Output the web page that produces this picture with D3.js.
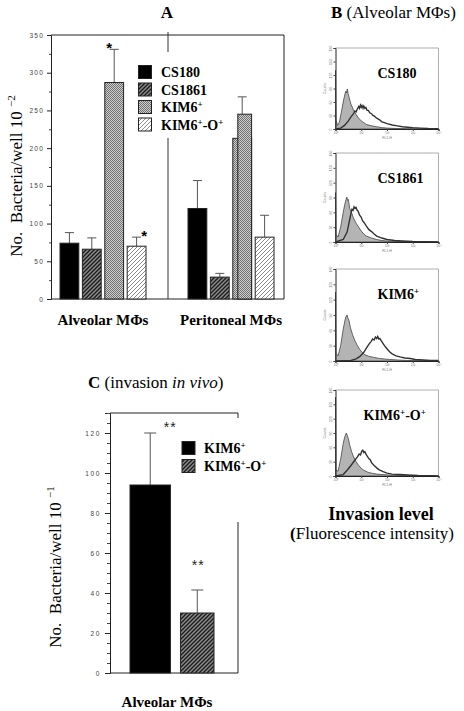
<!DOCTYPE html>
<html><head><meta charset="utf-8">
<script src="https://cdn.jsdelivr.net/npm/d3@7"></script>
<style>body{margin:0;background:#fff} svg{display:block}</style>
</head><body><svg id="c" width="464" height="711"></svg>
<script>
// ---------- DATA ----------
const groupsA = ["Alveolar MΦs", "Peritoneal MΦs"];
const strainsA = ["CS180", "CS1861", "KIM6+", "KIM6+-O+"];
const alveolarMeans = [74, 66, 287, 70];
const alveolarUpper = [88, 81, 331, 82];
const peritonealMeans = [120, 29, 245, 82];
const peritonealUpper = [157, 34, 268, 111];
const peritonealKimShoulder = 213;
const yTicksA = [0, 50, 100, 150, 200, 250, 300, 350];

const strainsC = ["KIM6+", "KIM6+-O+"];
const meansC = [94, 30];
const upperC = [120, 41.5];
const yTicksC = [0, 20, 40, 60, 80, 100, 120];

const histNames = ["CS180", "CS1861", "KIM6+", "KIM6+-O+"];
const histDecades = [0, 1, 2, 3, 4];
const histCountTicks = [0, 30, 60, 90, 120, 150, 180];
const cs180Control = [[0,130],[0.02,20],[0.08,8],[0.15,15],[0.22,35],[0.3,60],[0.36,76],[0.4,84],[0.43,80],[0.46,89],[0.49,78],[0.53,70],[0.6,55],[0.7,42],[0.8,32],[0.9,24],[1.0,18],[1.1,14],[1.2,10],[1.4,7],[1.6,5],[1.8,3],[2.0,2],[2.4,1],[2.8,0.5],[4,0]];
const cs180Sample = [[0,0],[0.2,2],[0.35,8],[0.5,18],[0.6,27],[0.7,34],[0.75,40],[0.8,38],[0.85,45],[0.9,50],[0.93,46],[0.97,53],[1.0,48],[1.03,52],[1.07,46],[1.1,51],[1.14,46],[1.18,48],[1.22,42],[1.28,41],[1.33,36],[1.4,34],[1.45,30],[1.5,29],[1.6,24],[1.7,21],[1.8,16],[1.9,14],[2.0,12],[2.2,9],[2.4,7],[2.6,5],[2.8,4],[3.0,3],[3.3,2],[3.6,1],[4,0.5]];
const cs1861Control = [[0,100],[0.02,15],[0.1,10],[0.2,30],[0.3,60],[0.36,76],[0.41,86],[0.44,91],[0.47,84],[0.5,86],[0.55,68],[0.62,60],[0.7,48],[0.8,38],[0.9,30],[1.0,22],[1.1,16],[1.2,12],[1.4,8],[1.6,5],[1.8,3],[2.0,2],[2.5,1],[4,0]];
const cs1861Sample = [[0,0],[0.3,5],[0.45,20],[0.55,45],[0.6,58],[0.64,66],[0.68,64],[0.72,71],[0.76,68],[0.8,70],[0.84,64],[0.88,62],[0.93,55],[1.0,50],[1.05,43],[1.1,40],[1.2,32],[1.3,25],[1.4,21],[1.5,16],[1.6,12],[1.8,8],[2.0,5],[2.3,3],[2.6,2],[3.0,1],[4,0]];
const kim6Control = [[0,135],[0.02,15],[0.1,10],[0.2,30],[0.3,62],[0.36,78],[0.4,86],[0.45,90],[0.48,84],[0.52,80],[0.58,65],[0.66,52],[0.75,40],[0.85,30],[0.95,22],[1.05,16],[1.15,12],[1.3,9],[1.5,7],[1.7,5],[1.9,4],[2.1,3],[2.4,2],[2.8,1],[4,0]];
const kim6Sample = [[0,0],[0.6,1],[0.8,4],[0.95,9],[1.1,17],[1.2,25],[1.3,33],[1.38,38],[1.44,43],[1.5,41],[1.55,47],[1.6,44],[1.64,48],[1.68,43],[1.72,44],[1.8,38],[1.9,30],[2.0,24],[2.1,18],[2.2,14],[2.35,10],[2.5,8],[2.7,6],[2.9,5],[3.1,3],[3.4,2],[3.7,1],[4,1]];
const kim6oControl = [[0,165],[0.02,12],[0.1,10],[0.2,35],[0.3,68],[0.36,82],[0.42,90],[0.46,84],[0.5,78],[0.55,65],[0.62,52],[0.7,40],[0.8,30],[0.9,22],[1.0,16],[1.1,12],[1.25,8],[1.4,6],[1.6,4],[1.8,3],[2.1,2],[2.5,1],[4,0]];
const kim6oSample = [[0,0],[0.3,3],[0.45,12],[0.6,22],[0.75,33],[0.85,40],[0.92,46],[0.97,44],[1.02,52],[1.06,54],[1.1,49],[1.14,51],[1.2,44],[1.3,36],[1.35,34],[1.4,28],[1.5,22],[1.6,17],[1.7,13],[1.85,9],[2.0,6],[2.2,4],[2.5,3],[2.8,2],[3.2,1],[4,0]];

// ---------- SETUP ----------
const svg = d3.select("#c");
const SERIF = "Liberation Serif, Times New Roman, serif";
const SANS = "Liberation Sans, Arial, sans-serif";
const defs = svg.append("defs");

function hatch(id, bg, fg, sw, size) {
  const p = defs.append("pattern").attr("id", id).attr("patternUnits", "userSpaceOnUse")
    .attr("width", size).attr("height", size);
  p.append("rect").attr("width", size).attr("height", size).attr("fill", bg);
  p.append("path").attr("d", `M-1,1 l2,-2 M0,${size} l${size},${-size} M${size-1},${size+1} l2,-2`)
    .attr("stroke", fg).attr("stroke-width", sw);
}
hatch("hDark", "#8a8a8a", "#1a1a1a", 1.3, 4);
hatch("hLight", "#ffffff", "#8c8c8c", 1, 4);
const ck = defs.append("pattern").attr("id", "checker").attr("patternUnits", "userSpaceOnUse")
  .attr("width", 2).attr("height", 2);
ck.append("rect").attr("width", 2).attr("height", 2).attr("fill", "#cfcfcf");
ck.append("rect").attr("width", 1).attr("height", 1).attr("fill", "#707070");
ck.append("rect").attr("x", 1).attr("y", 1).attr("width", 1).attr("height", 1).attr("fill", "#707070");

const fillsA = ["#000", "url(#hDark)", "url(#checker)", "url(#hLight)"];
const fillsC = ["#000", "url(#hDark)"];

function supLabel(sel, str, supSize, supDy) {
  const parts = str.split(/(\+)/).filter(s => s.length);
  let raised = false;
  parts.forEach(p => {
    const t = sel.append("tspan").text(p);
    if (p === "+") { t.attr("font-size", supSize).attr("dy", -supDy); raised = true; }
    else if (raised) { t.attr("dy", supDy); raised = false; }
  });
}

// ---------- PANEL A ----------
const A = { l: 51, r: 284, t: 35, b: 299 };
const yA = d3.scaleLinear().domain([0, 350]).range([A.b, A.t]);
const xA = d3.scaleBand().domain(groupsA).range([39, 295]);
const xAi = d3.scaleBand().domain(strainsA).range([-43, 43]).paddingInner(0.16);
const gA = svg.append("g");

gA.append("path").attr("d", `M${A.l},${A.t} H${A.r} V${A.b} H${A.l}`).attr("fill", "none")
  .attr("stroke", "#222").attr("stroke-width", 1);
gA.append("line").attr("x1", 168).attr("x2", 168).attr("y1", 32).attr("y2", 52).attr("stroke", "#333");
gA.append("line").attr("x1", 168).attr("x2", 168).attr("y1", 138).attr("y2", A.b).attr("stroke", "#333");

const axA = gA.append("g").attr("transform", `translate(${A.l},0)`)
  .call(d3.axisLeft(yA).tickValues(yTicksA).tickSize(4).tickPadding(3).tickFormat(d3.format("d")));
axA.select(".domain").attr("stroke", "#222");
axA.selectAll(".tick line").attr("stroke", "#222");
axA.selectAll(".tick text").attr("font-family", SANS).attr("font-size", 6.5)
  .attr("letter-spacing", 1.2).attr("fill", "#444");
gA.append("g").attr("transform", `translate(${A.l},0)`)
  .call(d3.axisLeft(yA).tickValues(d3.range(25, 350, 50)).tickSize(2).tickFormat(""))
  .call(g => g.select(".domain").remove()).selectAll("line").attr("stroke", "#444");

const dataA = [
  { g: groupsA[0], means: alveolarMeans, upper: alveolarUpper },
  { g: groupsA[1], means: peritonealMeans, upper: peritonealUpper }
];
const bw = xAi.bandwidth();
dataA.forEach((grp, gi) => {
  const gx = xA(grp.g) + xA.bandwidth() / 2;
  strainsA.forEach((s, i) => {
    const x0 = gx + xAi(s);
    const cx = x0 + bw / 2;
    gA.append("line").attr("x1", cx).attr("x2", cx).attr("y1", yA(grp.means[i])).attr("y2", yA(grp.upper[i]))
      .attr("stroke", "#555").attr("stroke-width", 1);
    gA.append("line").attr("x1", cx - 4.5).attr("x2", cx + 4.5).attr("y1", yA(grp.upper[i])).attr("y2", yA(grp.upper[i]))
      .attr("stroke", "#555").attr("stroke-width", 1);
    if (gi === 1 && s === "KIM6+") {
      gA.append("rect").attr("x", x0).attr("width", bw).attr("y", yA(peritonealKimShoulder))
        .attr("height", yA(0) - yA(peritonealKimShoulder)).attr("fill", fillsA[i]).attr("stroke", "#222").attr("stroke-width", 1);
      gA.append("rect").attr("x", x0 + 5).attr("width", bw - 5).attr("y", yA(grp.means[i]))
        .attr("height", yA(0) - yA(grp.means[i])).attr("fill", fillsA[i]).attr("stroke", "#222").attr("stroke-width", 1);
    } else {
      gA.append("rect").attr("x", x0).attr("width", bw).attr("y", yA(grp.means[i]))
        .attr("height", yA(0) - yA(grp.means[i])).attr("fill", fillsA[i]).attr("stroke", "#222").attr("stroke-width", 1);
    }
  });
  gA.append("text").attr("x", gx).attr("y", 325).attr("text-anchor", "middle")
    .attr("font-family", SERIF).attr("font-weight", "bold").attr("font-size", 15).text(grp.g);
});
{
  const gx = xA(groupsA[0]) + xA.bandwidth() / 2;
  const c2 = gx + xAi("KIM6+") + bw / 2, c3 = gx + xAi("KIM6+-O+") + bw / 2;
  gA.append("text").attr("x", c2 - 5).attr("y", yA(alveolarUpper[2]) + 4).attr("text-anchor", "middle")
    .attr("font-family", SANS).attr("font-size", 15).attr("font-weight", "bold").text("*");
  gA.append("text").attr("x", c3 + 7.5).attr("y", yA(alveolarUpper[3]) + 4).attr("text-anchor", "middle")
    .attr("font-family", SANS).attr("font-size", 15).attr("font-weight", "bold").text("*");
}
strainsA.forEach((s, i) => {
  const cy = 72 + i * 17.5;
  gA.append("rect").attr("x", 138.5).attr("y", cy - 6.5).attr("width", 13).attr("height", 13)
    .attr("fill", fillsA[i]).attr("stroke", "#222").attr("stroke-width", 1);
  const t = gA.append("text").attr("x", 161).attr("y", cy + 5).attr("font-family", SERIF)
    .attr("font-weight", "bold").attr("font-size", 14);
  supLabel(t, s, 9, 5);
});
svg.append("text").attr("x", 167).attr("y", 18).attr("text-anchor", "middle").attr("font-family", SERIF)
  .attr("font-weight", "bold").attr("font-size", 17).text("A");
{
  const t = svg.append("text").attr("transform", "translate(22,176) rotate(-90)").attr("text-anchor", "middle")
    .attr("font-family", SERIF).attr("font-size", 17).style("white-space", "pre");
  t.append("tspan").text("No.  Bacteria/well 10 ");
  t.append("tspan").attr("dy", -7).attr("font-size", 11).text("−2");
}

// ---------- PANEL B ----------
{
  const t = svg.append("text").attr("x", 331).attr("y", 18).attr("font-family", SERIF).attr("font-size", 17);
  t.append("tspan").attr("font-weight", "bold").text("B");
  t.append("tspan").text(" (Alveolar MΦs)");
}
const histData = [
  [cs180Control, cs180Sample], [cs1861Control, cs1861Sample],
  [kim6Control, kim6Sample], [kim6oControl, kim6oSample]
];
const hTops = [48, 153, 269, 390], hHeights = [81, 89, 92, 86], hLabelDx = [42, 42, 42, 28];
histNames.forEach((name, i) => {
  const left = 335.5, w = 103, top = hTops[i], h = hHeights[i], bot = top + h;
  const x = d3.scaleLinear().domain([0, 4]).range([left, left + w]);
  const y = d3.scaleLinear().domain([0, 180]).range([bot, top]);
  const g = svg.append("g");
  g.append("path").attr("d", `M${left},${top} H${left + w} V${bot}`).attr("fill", "none")
    .attr("stroke", "#9a9a9a").attr("stroke-width", 0.8);
  const [ctrl, samp] = histData[i];
  g.append("path").datum(ctrl)
    .attr("d", d3.area().x(d => x(d[0])).y0(y(0)).y1(d => y(d[1])))
    .attr("fill", "#b4b4b4").attr("stroke", "#444").attr("stroke-width", 0.8);
  g.append("path").datum(samp)
    .attr("d", d3.line().x(d => x(d[0])).y(d => y(d[1])))
    .attr("fill", "none").attr("stroke", "#333").attr("stroke-width", 1.4);
  const ay = g.append("g").attr("transform", `translate(${left},0)`)
    .call(d3.axisLeft(y).tickValues(histCountTicks).tickSize(2).tickPadding(1));
  ay.select(".domain").attr("stroke", "#222");
  ay.selectAll(".tick line").attr("stroke", "#444");
  ay.selectAll(".tick text").attr("font-size", 3.5).attr("fill", "#777").attr("font-family", SANS)
    .attr("transform", `rotate(-90,-4,0)`).attr("x", -4).attr("dy", "0.2em")
    .attr("text-anchor", "middle");
  const ax = g.append("g").attr("transform", `translate(0,${bot})`)
    .call(d3.axisBottom(x).tickValues(histDecades).tickSize(2).tickPadding(1).tickFormat(d => "10" + "⁰¹²³⁴"[d]));
  ax.select(".domain").attr("stroke", "#222");
  ax.selectAll(".tick line").attr("stroke", "#444");
  ax.selectAll(".tick text").attr("font-size", 3.5).attr("fill", "#777").attr("font-family", SANS);
  g.append("text").attr("transform", `translate(${left - 10},${top + h / 2}) rotate(-90)`).attr("text-anchor", "middle")
    .attr("font-size", 3.5).attr("fill", "#777").attr("font-family", SANS).text("Counts");
  g.append("text").attr("x", left + w / 2).attr("y", bot + 10).attr("text-anchor", "middle")
    .attr("font-size", 3.5).attr("fill", "#777").attr("font-family", SANS).text("FL1-H");
  const t = g.append("text").attr("x", left + hLabelDx[i]).attr("y", top + 30).attr("font-family", SERIF)
    .attr("font-weight", "bold").attr("font-size", 14);
  supLabel(t, name, 9, 5);
});
svg.append("text").attr("x", 381).attr("y", 520).attr("text-anchor", "middle").attr("font-family", SERIF)
  .attr("font-weight", "bold").attr("font-size", 18).text("Invasion level");
{
  const t = svg.append("text").attr("x", 372).attr("y", 539).attr("text-anchor", "middle").attr("font-family", SERIF)
    .attr("font-size", 17);
  t.append("tspan").attr("font-weight", "bold").text("(");
  t.append("tspan").text("Fluorescence intensity)");
}

// ---------- PANEL C ----------
const C = { l: 110, r: 238, t: 413, b: 673 };
const yC = d3.scaleLinear().domain([0, 130]).range([C.b, C.t]);
const xC = d3.scaleBand().domain(strainsC).range([130, 221]).paddingInner(0.2);
const gC = svg.append("g");
gC.append("path").attr("d", `M${C.l},${C.t} H${C.r} V${C.t + 5} M${C.r},522 V${C.b} H${C.l}`)
  .attr("fill", "none").attr("stroke", "#222");
const axC = gC.append("g").attr("transform", `translate(${C.l},0)`)
  .call(d3.axisLeft(yC).tickValues(yTicksC).tickSize(5).tickPadding(4).tickFormat(d3.format("d")));
axC.select(".domain").attr("stroke", "#222");
axC.selectAll(".tick line").attr("stroke", "#222");
axC.selectAll(".tick text").attr("font-family", SANS).attr("font-size", 6.5).attr("letter-spacing", 1.6).attr("fill", "#444");
gC.append("g").attr("transform", `translate(${C.l},0)`)
  .call(d3.axisLeft(yC).tickValues(d3.range(5, 131, 5).filter(v => v % 20 !== 0)).tickSize(3).tickFormat(""))
  .call(g => g.select(".domain").remove()).selectAll("line").attr("stroke", "#444");
strainsC.forEach((s, i) => {
  const x0 = xC(s);
  const bwC = xC.bandwidth() - (i === 1 ? 7 : 0);
  const cx = x0 + bwC / 2;
  gC.append("line").attr("x1", cx).attr("x2", cx).attr("y1", yC(meansC[i])).attr("y2", yC(upperC[i]))
    .attr("stroke", "#555");
  gC.append("line").attr("x1", cx - 6).attr("x2", cx + 6).attr("y1", yC(upperC[i])).attr("y2", yC(upperC[i]))
    .attr("stroke", "#555");
  gC.append("rect").attr("x", x0).attr("width", bwC).attr("y", yC(meansC[i]))
    .attr("height", yC(0) - yC(meansC[i])).attr("fill", fillsC[i]).attr("stroke", "#222");
  gC.append("text").attr("x", cx + (i === 0 ? 20 : 1)).attr("y", yC(upperC[i]) + (i === 0 ? -1 : -20))
    .attr("text-anchor", "middle").attr("font-family", SANS).attr("font-size", 14).attr("fill", "#222")
    .attr("letter-spacing", 1).text("**");
  const cy = 448 + i * 18;
  gC.append("rect").attr("x", 182).attr("y", cy - 6.5).attr("width", 13).attr("height", 13)
    .attr("fill", fillsC[i]).attr("stroke", "#222");
  const t = gC.append("text").attr("x", 204).attr("y", cy + 5).attr("font-family", SERIF)
    .attr("font-weight", "bold").attr("font-size", 14);
  supLabel(t, s, 9, 5);
});
gC.append("text").attr("x", 167).attr("y", 707).attr("text-anchor", "middle").attr("font-family", SERIF)
  .attr("font-weight", "bold").attr("font-size", 15).text("Alveolar MΦs");
{
  const t = svg.append("text").attr("x", 88).attr("y", 388).attr("font-family", SERIF).attr("font-size", 17);
  t.append("tspan").attr("font-weight", "bold").text("C");
  t.append("tspan").text(" (invasion ");
  t.append("tspan").attr("font-style", "italic").text("in vivo");
  t.append("tspan").text(")");
}
{
  const t = svg.append("text").attr("transform", "translate(61,567) rotate(-90)").attr("text-anchor", "middle")
    .attr("font-family", SERIF).attr("font-size", 17).style("white-space", "pre");
  t.append("tspan").text("No.  Bacteria/well 10 ");
  t.append("tspan").attr("dy", -7).attr("font-size", 11).text("−1");
}
</script></body></html>
